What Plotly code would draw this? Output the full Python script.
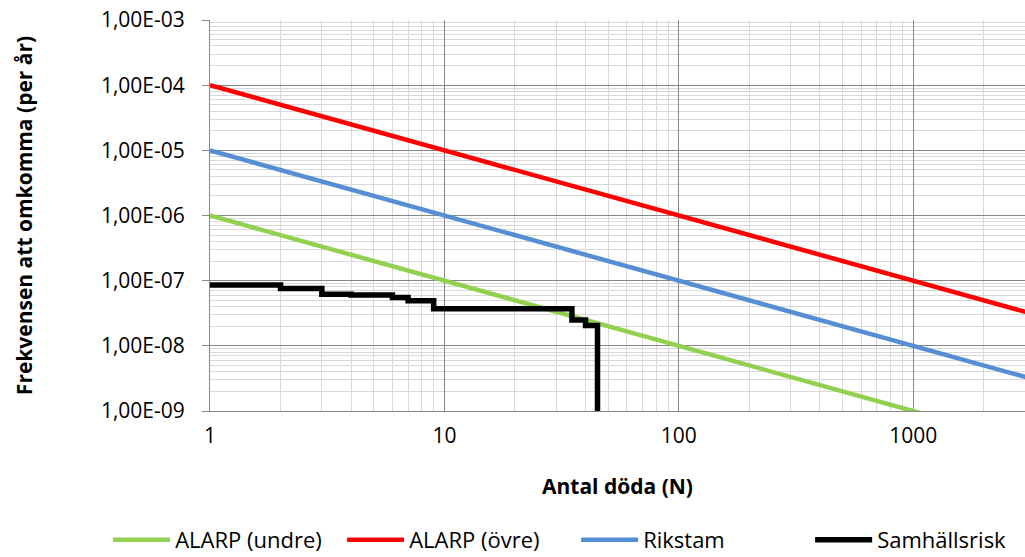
import plotly.graph_objects as go

# ---- data ----
n_lines = [1, 10, 100, 1000, 10000]
alarp_undre = [1e-6, 1e-7, 1e-8, 1e-9, 1e-10]
alarp_ovre = [1e-4, 1e-5, 1e-6, 1e-7, 1e-8]
rikstam = [1e-5, 1e-6, 1e-7, 1e-8, 1e-9]

samh_n = [1, 2, 3, 4, 6, 7, 9, 35, 40, 45]
samh_f = [8.6e-8, 7.6e-8, 6.2e-8, 6.0e-8, 5.5e-8, 4.9e-8, 3.7e-8, 2.5e-8, 2.05e-8, 1e-9]

x_tickvals = [1, 10, 100, 1000]
x_ticktext = ["1", "10", "100", "1000"]
y_tickvals = [1e-9, 1e-8, 1e-7, 1e-6, 1e-5, 1e-4, 1e-3]
y_ticktext = ["1,00E-09", "1,00E-08", "1,00E-07", "1,00E-06", "1,00E-05", "1,00E-04", "1,00E-03"]

x_minor = [m * 10 ** d for d in range(0, 4) for m in range(2, 10)]
y_minor = [m * 10.0 ** d for d in range(-9, -3) for m in range(2, 10)]

FONT = "Open Sans"

fig = go.Figure()
fig.add_trace(go.Scatter(x=n_lines, y=alarp_undre, mode="lines", name="ALARP (undre)",
                         line=dict(color="#92d050", width=4.5)))
fig.add_trace(go.Scatter(x=n_lines, y=alarp_ovre, mode="lines", name="ALARP (övre)",
                         line=dict(color="#ff0000", width=4.5)))
fig.add_trace(go.Scatter(x=n_lines, y=rikstam, mode="lines", name="Rikstam",
                         line=dict(color="#558ed5", width=4.5)))
fig.add_trace(go.Scatter(x=samh_n, y=samh_f, mode="lines", name="Samhällsrisk",
                         line=dict(color="#000000", width=5.5, shape="hv")))

fig.update_layout(
    template="none",
    width=1025, height=557,
    margin=dict(l=210, r=0, t=20, b=146, pad=0, autoexpand=False),
    paper_bgcolor="white", plot_bgcolor="white",
    font=dict(family=FONT, size=21, color="#000000"),
    showlegend=True,
    legend=dict(orientation="h", xref="paper", yref="paper",
                x=-0.125, xanchor="left", y=-0.33, yanchor="middle",
                font=dict(family=FONT, size=22), itemwidth=57, traceorder="normal",
                entrywidth=162, bgcolor="rgba(0,0,0,0)"),
    xaxis=dict(
        type="log", range=[0, 3.4771], automargin=False,
        tickmode="array", tickvals=x_tickvals, ticktext=x_ticktext,
        showgrid=True, gridcolor="#878787", gridwidth=1,
        showline=True, linecolor="#878787", linewidth=1, mirror=False,
        ticks="", ticklabelstandoff=6, ticklabeloverflow="allow",
        tickfont=dict(family=FONT, size=21),
        minor=dict(tickmode="array", tickvals=x_minor, showgrid=True,
                   gridcolor="#d9d9d9", gridwidth=1, ticks=""),
        title=dict(text="<b>Antal döda (N)</b>", font=dict(family=FONT, size=21), standoff=31),
        zeroline=False,
    ),
    yaxis=dict(
        type="log", range=[-9, -3], automargin=False,
        tickmode="array", tickvals=y_tickvals, ticktext=y_ticktext,
        showgrid=True, gridcolor="#878787", gridwidth=1,
        showline=True, linecolor="#878787", linewidth=1,
        ticks="outside", ticklen=7, tickcolor="#878787", ticklabelstandoff=13,
        ticklabeloverflow="allow",
        tickfont=dict(family=FONT, size=21),
        minor=dict(tickmode="array", tickvals=y_minor, showgrid=True,
                   gridcolor="#d9d9d9", gridwidth=1, ticks=""),
        title=dict(text="<b>Frekvensen att omkomma (per år)</b>", font=dict(family=FONT, size=21), standoff=62),
        zeroline=False,
    ),
)

# remove the browser's default 8px body margin so the figure sits at the page origin
fig.write_html("out.html", config={"displayModeBar": False},
               post_script="document.body.style.margin='0';")
